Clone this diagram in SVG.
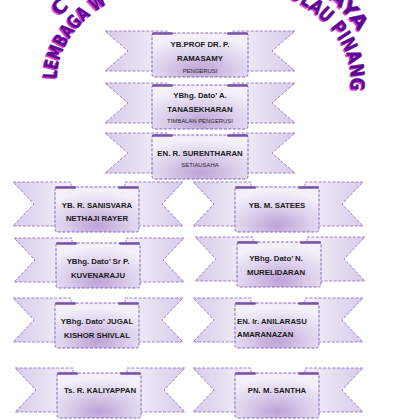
<svg xmlns="http://www.w3.org/2000/svg" width="400" height="420" viewBox="0 0 400 420">
<style>
.tail{stroke:#8c67bd;stroke-width:0.8;stroke-dasharray:3 1.6}
.tl{fill:url(#gTL)}
.tr{fill:url(#gTR)}
.panel{fill:url(#gP);stroke:#7d55b0;stroke-width:0.9;stroke-dasharray:3 1.6}
.fold{fill:#7a52a8}
.nm{font-family:"Liberation Sans",Arial,sans-serif;font-weight:bold;font-size:7.8px;fill:#1b1b1b;text-anchor:middle}
.rl{font-family:"Liberation Sans",Arial,sans-serif;font-size:5.9px;fill:#2a2a2a;text-anchor:middle}
.tt{font-family:"DejaVu Sans","Liberation Sans",sans-serif;font-weight:bold;font-size:19px}
.sh{fill:#dc3ee0}
.fg{fill:#5c0a93;stroke:#5c0a93;stroke-width:0.4}
</style>
<defs>
<linearGradient id="gTL" x1="0" y1="0" x2="1" y2="0">
<stop offset="0" stop-color="#d9cbea"/><stop offset="1" stop-color="#f5f1f9"/>
</linearGradient>
<linearGradient id="gTR" x1="1" y1="0" x2="0" y2="0">
<stop offset="0" stop-color="#d9cbea"/><stop offset="1" stop-color="#f5f1f9"/>
</linearGradient>
<radialGradient id="gP" cx="0.5" cy="0.85" r="0.75">
<stop offset="0" stop-color="#bba3d6"/><stop offset="0.55" stop-color="#ded2ed"/><stop offset="1" stop-color="#f4f0f9"/>
</radialGradient>
<g id="rTop">
<polygon class="tail tl" points="0,0 62,0 62,40 0,40 23,20"/>
<polygon class="tail tr" points="190,0 128,0 128,40 190,40 167,20"/>
<rect class="panel" x="47" y="2" width="96" height="44" rx="2.5"/>
<rect class="fold" x="47" y="1.2" width="21" height="2.6" rx="1.2"/>
<rect class="fold" x="122" y="1.2" width="21" height="2.6" rx="1.2"/>
</g>
<g id="rSide">
<polygon class="tail tl" points="0,0 58,0 58,44 0,44 21,22"/>
<polygon class="tail tr" points="170,0 112,0 112,44 170,44 149,22"/>
<rect class="panel" x="42" y="5" width="84" height="45" rx="2.5"/>
<rect class="fold" x="42" y="4.2" width="21" height="2.6" rx="1.2"/>
<rect class="fold" x="105" y="4.2" width="21" height="2.6" rx="1.2"/>
</g>
<path id="arcIn" d="M59.2,96.4 A147,100 0 0 1 204,-21 A147,100 0 0 1 348.8,96.4"/>
<path id="arcOut" d="M38.6,100 A168,121 0 0 1 204,-42 A168,121 0 0 1 369.4,100"/>
</defs>

<g id="title" class="tt">
<g class="sh" transform="translate(-1.4,1.4)">
<text><textPath href="#arcOut" startOffset="89">C</textPath></text>
<text text-anchor="end"><textPath href="#arcOut" startOffset="428" textLength="46" lengthAdjust="spacingAndGlyphs">AYA</textPath></text>
<text><textPath href="#arcIn" startOffset="17.5" textLength="95" lengthAdjust="spacingAndGlyphs">LEMBAGA W</textPath></text>
<text><textPath href="#arcIn" startOffset="300" textLength="120" lengthAdjust="spacingAndGlyphs">ULAU PINANG</textPath></text>
</g>
<g class="fg">
<text><textPath href="#arcOut" startOffset="89">C</textPath></text>
<text text-anchor="end"><textPath href="#arcOut" startOffset="428" textLength="46" lengthAdjust="spacingAndGlyphs">AYA</textPath></text>
<text><textPath href="#arcIn" startOffset="17.5" textLength="95" lengthAdjust="spacingAndGlyphs">LEMBAGA W</textPath></text>
<text><textPath href="#arcIn" startOffset="300" textLength="120" lengthAdjust="spacingAndGlyphs">ULAU PINANG</textPath></text>
</g>
</g>

<g id="connectors"></g>

<g id="n1">
<use href="#rTop" x="105" y="31"/>
<text class="nm" x="200" y="47.3">YB.PROF DR. P.</text>
<text class="nm" x="200" y="61">RAMASAMY</text>
<text class="rl" x="200" y="73.3">PENGERUSI</text>
</g>
<g id="n2">
<use href="#rTop" x="105" y="83"/>
<text class="nm" x="200" y="98.3">YBhg. Dato’ A.</text>
<text class="nm" x="200" y="111.7">TANASEKHARAN</text>
<text class="rl" x="200" y="123.3">TIMBALAN PENGERUSI</text>
</g>
<g id="n3">
<use href="#rTop" x="105" y="133"/>
<text class="nm" x="200" y="156">EN. R. SURENTHARAN</text>
<text class="rl" x="200" y="167.3">SETIAUSAHA</text>
</g>
<g id="n4">
<use href="#rSide" x="13" y="182"/>
<text class="nm" x="97" y="208">YB. R. SANISVARA</text>
<text class="nm" x="97" y="221">NETHAJI RAYER</text>
</g>
<g id="n5">
<use href="#rSide" x="193" y="182"/>
<text class="nm" x="277" y="208">YB. M. SATEES</text>
</g>
<g id="n6">
<use href="#rSide" x="14" y="238"/>
<text class="nm" x="98" y="264">YBhg. Dato’ Sr P.</text>
<text class="nm" x="98" y="277.5">KUVENARAJU</text>
</g>
<g id="n7">
<use href="#rSide" x="195" y="237"/>
<text class="nm" x="276" y="261">YBhg. Dato’ N.</text>
<text class="nm" x="276" y="274.5">MURELIDARAN</text>
</g>
<g id="n8">
<use href="#rSide" x="13" y="298"/>
<text class="nm" x="97" y="324">YBhg. Dato’ JUGAL</text>
<text class="nm" x="97" y="337.5">KISHOR SHIVLAL</text>
</g>
<g id="n9">
<use href="#rSide" x="193" y="298"/>
<text class="nm" x="237" y="323.5" style="text-anchor:start">EN. Ir. ANILARASU</text>
<text class="nm" x="237" y="337" style="text-anchor:start">AMARANAZAN</text>
</g>
<g id="n10">
<use href="#rSide" x="15" y="368"/>
<text class="nm" x="100" y="393">Ts. R. KALIYAPPAN</text>
</g>
<g id="n11">
<use href="#rSide" x="193" y="368"/>
<text class="nm" x="277" y="393">PN. M. SANTHA</text>
</g>
</svg>
